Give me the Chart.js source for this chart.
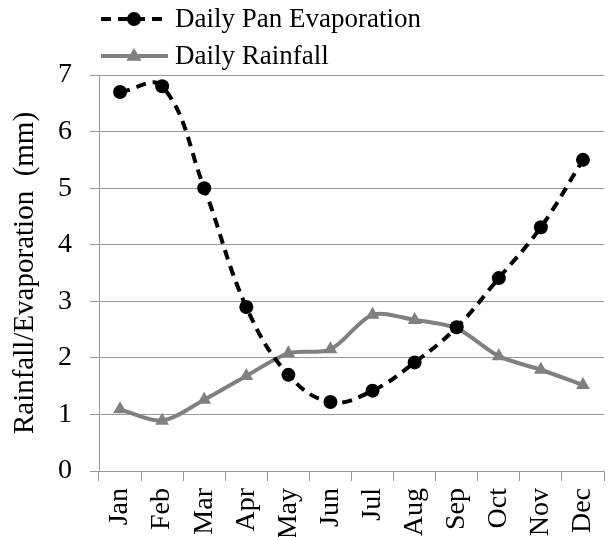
<!DOCTYPE html>
<html><head><meta charset="utf-8">
<script src="https://cdn.jsdelivr.net/npm/chart.js@4"></script>
<style>html,body{margin:0;padding:0;background:#fff}#wrap{width:608px;height:537px}</style>
</head><body><div id="wrap"><canvas id="c" width="608" height="537"></canvas></div>
<script>
const months = ['Jan','Feb','Mar','Apr','May','Jun','Jul','Aug','Sep','Oct','Nov','Dec'];
const panEvaporation = [6.70, 6.80, 5.00, 2.90, 1.70, 1.22, 1.42, 1.92, 2.54, 3.41, 4.31, 5.50];
const rainfall = [1.09, 0.89, 1.26, 1.68, 2.08, 2.15, 2.76, 2.67, 2.52, 2.03, 1.79, 1.52];
const yTicks = [0,1,2,3,4,5,6,7];
const FONT = '"Liberation Serif", "Times New Roman", serif';

const legendPlugin = {
  id: 'customLegend',
  afterDraw(chart) {
    const ctx = chart.ctx;
    const rows = [
      {ds: chart.data.datasets[0], y: 19},
      {ds: chart.data.datasets[1], y: 56}
    ];
    ctx.save();
    rows.forEach(r => {
      const ds = r.ds;
      ctx.strokeStyle = ds.borderColor;
      ctx.lineWidth = ds.borderWidth;
      ctx.setLineDash(ds.borderDash || []);
      ctx.beginPath(); ctx.moveTo(101, r.y); ctx.lineTo(168, r.y); ctx.stroke();
      ctx.setLineDash([]);
      ctx.fillStyle = ds.pointBackgroundColor;
      ctx.beginPath();
      if (ds.pointStyle === 'circle') { ctx.arc(134, r.y, ds.pointRadius, 0, Math.PI*2); }
      else { const rr = ds.pointRadius; ctx.moveTo(134, r.y - rr); ctx.lineTo(134 + rr*0.95, r.y + rr*0.6); ctx.lineTo(134 - rr*0.95, r.y + rr*0.6); ctx.closePath(); }
      ctx.fill();
      ctx.fillStyle = '#000';
      ctx.font = '27px ' + FONT;
      ctx.textBaseline = 'middle';
      ctx.fillText(ds.label, 175, r.y + 1);
    });
    ctx.restore();
  }
};

new Chart(document.getElementById('c'), {
  type: 'line',
  data: {
    labels: months,
    datasets: [
      {label: 'Daily Pan Evaporation', data: panEvaporation, borderColor: '#000', borderWidth: 4, borderDash: [10,7],
       pointStyle: 'circle', pointRadius: 7, pointBackgroundColor: '#000', pointBorderColor: '#000', pointBorderWidth: 0, tension: 0.4},
      {label: 'Daily Rainfall', data: rainfall, borderColor: '#808080', borderWidth: 4,
       pointStyle: 'triangle', pointRadius: 8, pointBackgroundColor: '#808080', pointBorderColor: '#808080', pointBorderWidth: 0, tension: 0.3}
    ]
  },
  options: {
    responsive: false, animation: false, devicePixelRatio: 1,
    layout: {autoPadding: false, padding: {top: 75, right: 4, left: 0, bottom: 0}},
    plugins: {legend: {display: false}, tooltip: {enabled: false}},
    scales: {
      x: {
        offset: true,
        afterFit(scale) { scale.height = 66; scale.paddingLeft = 0; scale.paddingRight = 0; },
        grid: {display: true, drawOnChartArea: false, drawTicks: true, tickLength: 10, color: '#999', offset: true},
        border: {color: '#999'},
        ticks: {font: {family: FONT, size: 28}, color: '#000', maxRotation: 90, minRotation: 90, padding: 7}
      },
      y: {
        min: 0, max: 7,
        afterBuildTicks(scale) { scale.ticks = yTicks.map(v => ({value: v})); },
        afterFit(scale) { scale.width = 99; },
        grid: {color: '#999', tickLength: 9},
        border: {color: '#999'},
        ticks: {font: {family: FONT, size: 28}, color: '#000', padding: 18},
        title: {display: true, text: 'Rainfall/Evaporation  (mm)', font: {family: FONT, size: 29}, color: '#000', padding: {top: 8, bottom: 0}}
      }
    }
  },
  plugins: [legendPlugin]
});
</script></body></html>
